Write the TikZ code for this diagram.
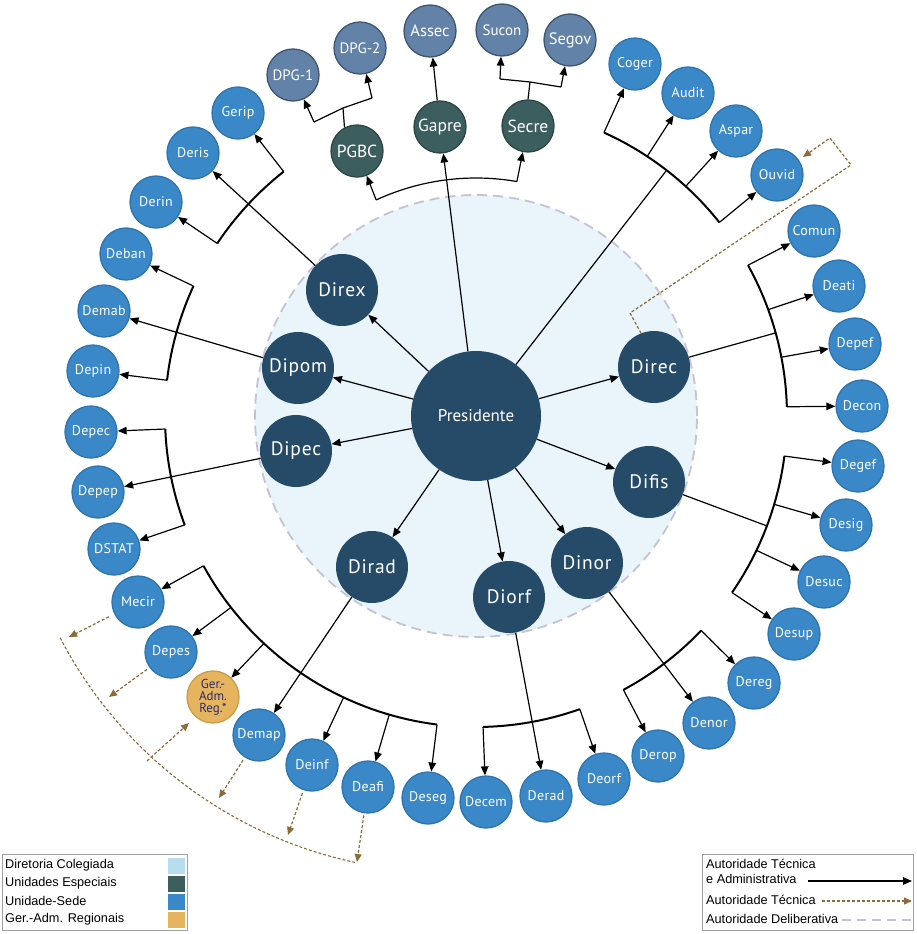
\documentclass[tikz,border=0pt]{standalone}
\usepackage{fontspec}
\setmainfont{PT Sans}
\newfontfamily\legfont{Liberation Sans}
\newfontfamily\dirfont[LetterSpace=4]{PT Sans}
\newfontfamily\unitfont[LetterSpace=2]{PT Sans}
\usetikzlibrary{arrows.meta,calc}
\definecolor{cNavy}{HTML}{264B69}
\definecolor{cTeal}{HTML}{3D5E5E}
\definecolor{cTealB}{HTML}{2C4545}
\definecolor{cSlate}{HTML}{6282A8}
\definecolor{cSlateB}{HTML}{3E5572}
\definecolor{cBlue}{HTML}{3A88C8}
\definecolor{cBlueB}{HTML}{2E74AE}
\definecolor{cOrange}{HTML}{E6B45F}
\definecolor{cOrangeB}{HTML}{CC9C48}
\definecolor{cOrText}{HTML}{2B2A6E}
\definecolor{cCenter}{HTML}{EAF5FB}
\definecolor{cDash}{HTML}{C5C3D3}
\definecolor{cLight}{HTML}{B7DEEF}
\definecolor{cBrown}{HTML}{8C6B3B}
\definecolor{cBox}{HTML}{A0A0A0}
\newcommand\brarc[3]{\draw[brk] plot[domain=#2:#3,samples=40] ({476+#1*cos(\x)},{416+#1*sin(\x)});}
\newcommand\bpt[3]{\coordinate (#1) at ({476+#2*cos(#3)},{416+#2*sin(#3)});}
\begin{document}
\begin{tikzpicture}[x=1pt,y=-1pt,
  unit/.style={circle,minimum size=52pt,inner sep=0pt,fill=cBlue,draw=cBlueB,line width=1.3pt,text=white,font=\unitfont\fontsize{14}{14}\selectfont},
  spec/.style={unit,fill=cTeal,draw=cTealB,font=\fontsize{17.5}{17.5}\selectfont},
  slate/.style={unit,fill=cSlate,draw=cSlateB,font=\fontsize{15}{15}\selectfont},
  dirn/.style={circle,minimum size=72pt,inner sep=0pt,fill=cNavy,text=white,font=\dirfont\fontsize{19.5}{19.5}\selectfont},
  pres/.style={circle,minimum size=130pt,inner sep=0pt,fill=cNavy,text=white,font=\fontsize{17}{17}\selectfont},
  arr/.style={line width=1.2pt,-{Triangle[length=9pt,width=7.5pt]}},
  ln/.style={line width=1.2pt},
  brk/.style={line width=2pt},
  tech/.style={draw=cBrown,line width=1.2pt,dash pattern=on 3pt off 2pt,-{Triangle[length=8pt,width=7pt]}},
  legtxt/.style={font=\legfont\fontsize{12.7}{12.7}\selectfont,inner sep=0pt,anchor=west},
  swatch/.style={minimum width=17pt,minimum height=16pt,inner sep=0pt}
]
\useasboundingbox (0,0) rectangle (917,934);
% central area
\node[circle,minimum size=442pt,fill=cCenter,draw=cDash,line width=1.8pt,dash pattern=on 10pt off 6pt] (bg) at (476,416) {};
% president and directors
\node[pres] (pres) at (476,416) {Presidente};
\node[dirn] (direx) at (342,290) {Direx};
\node[dirn] (dipom) at (298,368) {Dipom};
\node[dirn] (dipec) at (296,451) {Dipec};
\node[dirn] (dirad) at (372,567) {Dirad};
\node[dirn] (diorf) at (509,597) {Diorf};
\node[dirn] (dinor) at (587,563) {Dinor};
\node[dirn] (difis) at (649,482) {Difis};
\node[dirn] (direc) at (654,367) {Direc};
% special units
\node[spec] (pgbc) at (357,151) {PGBC};
\node[spec] (gapre) at (440,127) {Gapre};
\node[spec] (secre) at (528,126) {Secre};
\node[slate] (dpg1) at (293,75) {DPG-1};
\node[slate] (dpg2) at (360,48) {DPG-2};
\node[slate,font=\fontsize{16.5}{16.5}\selectfont] (assec) at (430,31) {Assec};
\node[slate] (sucon) at (502,30) {Sucon};
\node[slate,font=\fontsize{16.5}{16.5}\selectfont] (segov) at (570,40) {Segov};
% units
\node[unit] (coger) at (635,64) {Coger};
\node[unit] (audit) at (688,93) {Audit};
\node[unit] (aspar) at (736,131) {Aspar};
\node[unit] (ouvid) at (777,175) {Ouvid};
\node[unit] (comun) at (814,231) {Comun};
\node[unit] (deati) at (839,286) {Deati};
\node[unit] (depef) at (855,344) {Depef};
\node[unit] (decon) at (862,406) {Decon};
\node[unit] (degef) at (858,466) {Degef};
\node[unit] (desig) at (846,525) {Desig};
\node[unit] (desuc) at (824,582) {Desuc};
\node[unit] (desup) at (794,634) {Desup};
\node[unit] (dereg) at (754,683) {Dereg};
\node[unit] (denor) at (709,723) {Denor};
\node[unit] (derop) at (658,756) {Derop};
\node[unit] (deorf) at (604,779) {Deorf};
\node[unit] (derad) at (546,796) {Derad};
\node[unit] (decem) at (486,802) {Decem};
\node[unit] (deseg) at (428,798) {Deseg};
\node[unit] (deafi) at (368,787) {Deafi};
\node[unit] (deinf) at (312,765) {Deinf};
\node[unit] (demap) at (259,735) {Demap};
\node[unit,fill=cOrange,draw=cOrangeB,text=cOrText,align=center,font=\fontsize{13}{12}\selectfont] (gerad) at (213,697) {Ger.-\\Adm.\\Reg.*};
\node[unit] (depes) at (171,652) {Depes};
\node[unit] (mecir) at (138,602) {Mecir};
\node[unit] (dstat) at (114,549) {DSTAT};
\node[unit] (depep) at (98,492) {Depep};
\node[unit] (depec) at (91,432) {Depec};
\node[unit] (depin) at (93,371) {Depin};
\node[unit] (demab) at (104,311) {Demab};
\node[unit] (deban) at (126,254) {Deban};
\node[unit] (derin) at (156,202) {Derin};
\node[unit] (deris) at (193,153) {Deris};
\node[unit] (gerip) at (238,113) {Gerip};
% president arrows
\foreach \d in {direx,dipom,dipec,dirad,diorf,dinor,difis,direc}{\draw[arr] (pres) -- (\d);}
\draw[arr] (pres) -- (gapre);
\draw[arr] (gapre) -- (assec);
% bracket points
\bpt{b1a}{311}{-128.2}\bpt{b1b}{311}{-146.3}
\bpt{b2a}{311}{-155.3}\bpt{b2b}{311}{-173.4}
\bpt{b3a}{311}{177.6}\bpt{b3b}{311}{159.5}
\bpt{b4a}{311}{151.2}\bpt{b4b}{311}{142}\bpt{b4c}{311}{133}\bpt{b4d}{311}{115.2}\bpt{b4e}{311}{106.2}\bpt{b4f}{311}{97.2}
\bpt{b5a}{311}{88.7}\bpt{b5b}{311}{70.5}
\bpt{b6a}{311}{43.6}\bpt{b6b}{311}{61.7}
\bpt{b7a}{311}{7.4}\bpt{b7b}{311}{16.5}\bpt{b7c}{311}{25.6}\bpt{b7d}{311}{34.6}\bpt{b7p}{311}{20.7}
\bpt{b8a}{311}{-29}\bpt{b8b}{311}{-20}\bpt{b8c}{311}{-10.9}\bpt{b8d}{311}{-1.7}\bpt{b8p}{311}{-15.5}
\bpt{b9a}{311}{-65.7}\bpt{b9b}{311}{-56.6}\bpt{b9c}{311}{-47.6}\bpt{b9d}{311}{-38.5}\bpt{b9p}{311}{-52.2}
\bpt{b10a}{238}{-114.8}\bpt{b10b}{238}{-80.1}
% brackets
\brarc{311}{-146.3}{-128.2}
\brarc{311}{-173.4}{-155.3}
\brarc{311}{159.5}{177.6}
\brarc{311}{97.2}{151.2}
\brarc{311}{70.5}{88.7}
\brarc{311}{43.6}{61.7}
\brarc{311}{7.4}{34.6}
\brarc{311}{-29}{-1.7}
\brarc{311}{-65.7}{-38.5}
\draw[ln] plot[domain=-114.8:-80.1,samples=40] ({476+238*cos(\x)},{416+238*sin(\x)});
% Direx
\draw[arr] (direx) -- (deris);
\draw[arr] (b1a) -- (gerip);
\draw[arr] (b1b) -- (derin);
% Dipom
\draw[arr] (dipom) -- (demab);
\draw[arr] (b2a) -- (deban);
\draw[arr] (b2b) -- (depin);
% Dipec
\draw[arr] (dipec) -- (depep);
\draw[arr] (b3a) -- (depec);
\draw[arr] (b3b) -- (dstat);
% Dirad
\draw[arr] (dirad) -- (demap);
\draw[arr] (b4a) -- (mecir);
\draw[arr] (b4b) -- (depes);
\draw[arr] (b4c) -- (gerad);
\draw[arr] (b4d) -- (deinf);
\draw[arr] (b4e) -- (deafi);
\draw[arr] (b4f) -- (deseg);
% Diorf
\draw[arr] (diorf) -- (derad);
\draw[arr] (b5a) -- (decem);
\draw[arr] (b5b) -- (deorf);
% Dinor
\draw[arr] (dinor) -- (denor);
\draw[arr] (b6a) -- (dereg);
\draw[arr] (b6b) -- (derop);
% Difis
\draw[ln] (difis) -- (b7p);
\draw[arr] (b7a) -- (degef);
\draw[arr] (b7b) -- (desig);
\draw[arr] (b7c) -- (desuc);
\draw[arr] (b7d) -- (desup);
% Direc
\draw[ln] (direc) -- (b8p);
\draw[arr] (b8a) -- (comun);
\draw[arr] (b8b) -- (deati);
\draw[arr] (b8c) -- (depef);
\draw[arr] (b8d) -- (decon);
% Presidente to councils
\draw[ln] (pres) -- (b9p);
\draw[arr] (b9a) -- (coger);
\draw[arr] (b9b) -- (audit);
\draw[arr] (b9c) -- (aspar);
\draw[arr] (b9d) -- (ouvid);
% PGBC / Secre
\draw[arr] (b10a) -- (pgbc);
\draw[arr] (b10b) -- (secre);
\coordinate (p1) at (314,122); \coordinate (p2) at (343,108); \coordinate (p3) at (372,98);
\draw[ln] (p1) -- (p2) -- (p3);
\draw[ln] (pgbc.118) -- (p2);
\draw[arr] (p1) -- (dpg1);
\draw[arr] (p3) -- (dpg2);
\coordinate (s1) at (500,79); \coordinate (s2) at (530,82); \coordinate (s3) at (561,87);
\draw[ln] (s1) -- (s2) -- (s3);
\draw[ln] (secre.north) -- (s2);
\draw[arr] (s1) -- (sucon);
\draw[arr] (s3) -- (segov);
% technical authority (dashed brown)
\coordinate (o1) at (630,313); \coordinate (o2) at (851,165); \coordinate (o3) at (830,138); \coordinate (o4) at (803,157);
\draw[tech] (direc.111) -- (o1) -- (o2) -- (o3) -- (o4);
\draw[draw=cBrown,line width=1.1pt,dash pattern=on 3pt off 2pt] plot[domain=152.5:102.1,samples=60] ({446+435*cos(\x)},{437+435*sin(\x)});
\coordinate (t1) at (69,637); \coordinate (t2) at (109,697); \coordinate (t3) at (219,798);
\coordinate (t4) at (288,835); \coordinate (t5) at (357,862);
\coordinate (g1) at (147,761); \coordinate (g2) at (189,723);
\draw[tech,shorten <=6pt] (mecir) -- (t1);
\draw[tech,shorten <=3pt] (depes) -- (t2);
\draw[tech,shorten <=3pt] (demap) -- (t3);
\draw[tech,shorten <=3pt] (deinf) -- (t4);
\draw[tech,shorten <=2pt] (deafi) -- (t5);
\draw[tech] (g1) -- (g2);
% legend left
\draw[cBox,line width=1pt] (2,854) rectangle (187,930);
\node[legtxt] (l1) at (5,865) {Diretoria Colegiada};
\node[legtxt] (l2) at (5,883) {Unidades Especiais};
\node[legtxt] (l3) at (5,901) {Unidade-Sede};
\node[legtxt] (l4) at (5,919) {Ger.-Adm. Regionais};
\node[swatch,fill=cLight] (w1) at (176.5,865.5) {};
\node[swatch,fill=cTeal] (w2) at (176.5,883.5) {};
\node[swatch,fill=cBlue] (w3) at (176.5,901.5) {};
\node[swatch,fill=cOrange] (w4) at (176.5,919.5) {};
% legend right
\draw[cBox,line width=1pt] (702,854) rectangle (913,930);
\node[legtxt] (r1) at (706,864) {Autoridade Técnica};
\node[legtxt] (r2) at (706,879) {e Administrativa};
\node[legtxt] (r3) at (706,900) {Autoridade Técnica};
\node[legtxt] (r4) at (706,919) {Autoridade Deliberativa};
\coordinate (la1) at (808,881); \coordinate (lb1) at (912,881);
\coordinate (la2) at (822,901); \coordinate (lb2) at (912,901);
\coordinate (la3) at (842,920); \coordinate (lb3) at (912,920);
\draw[arr] (la1) -- (lb1);
\draw[tech] (la2) -- (lb2);
\draw[cDash,line width=2pt,dash pattern=on 9pt off 6pt] (la3) -- (lb3);
\end{tikzpicture}
\end{document}
